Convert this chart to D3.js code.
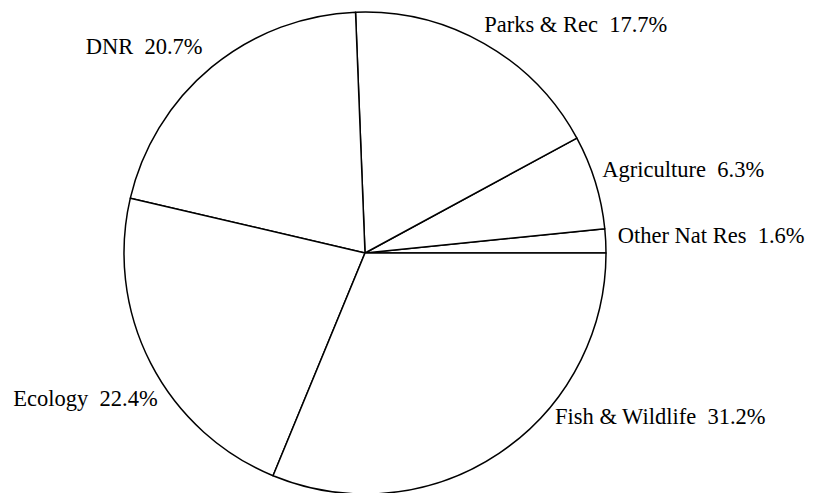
<!DOCTYPE html>
<html>
<head>
<meta charset="utf-8">
<script src="https://cdn.jsdelivr.net/npm/d3@7"></script>
<style>
  body { margin: 0; background: #fff; }
  svg { display: block; }
</style>
</head>
<body>
<svg id="chart" width="822" height="493"></svg>
<script>
// Slice data, counterclockwise from 3 o'clock
const categories = ["Other Nat Res", "Agriculture", "Parks & Rec", "DNR", "Ecology", "Fish & Wildlife"];
const shares = [1.6, 6.3, 17.7, 20.7, 22.4, 31.2];

// label nudges from the slice's edge midpoint (layout only)
const labelNudge = [
    [12, 2], [7, -5], [0, -12], [-9, -13], [7, 43], [56, -29]
];

const width = 822, height = 493;
const cx = 365, cy = 253, radius = 241;

const svg = d3.select("#chart");
const g = svg.append("g").attr("transform", `translate(${cx},${cy})`);

const slices = categories.map((c, i) => ({name: c, value: shares[i], i}));

// d3 angles run clockwise from 12 o'clock; map so slices go counterclockwise from 3 o'clock
const pie = d3.pie()
    .value(d => d.value)
    .sort(null)
    .startAngle(Math.PI / 2)
    .endAngle(Math.PI / 2 - 2 * Math.PI);

const arc = d3.arc().innerRadius(0).outerRadius(radius);

const arcs = pie(slices);

g.selectAll("path")
    .data(arcs)
    .join("path")
    .attr("d", arc)
    .attr("fill", "#fff")
    .attr("stroke", "#000")
    .attr("stroke-width", 1.5)
    .attr("stroke-linejoin", "round");

// labels
g.selectAll("text")
    .data(arcs)
    .join("text")
    .attr("font-family", "'Liberation Serif', 'DejaVu Serif', serif")
    .attr("font-size", 22.5)
    .attr("fill", "#000")
    .style("white-space", "pre")
    .each(function(d) {
        const mid = (d.startAngle + d.endAngle) / 2;
        const x = Math.sin(mid) * radius;
        const y = -Math.cos(mid) * radius;
        const [dx, dy] = labelNudge[d.data.i];
        d3.select(this)
            .attr("x", x + dx)
            .attr("y", y + dy)
            .attr("text-anchor", x >= 0 ? "start" : "end")
            .text(`${d.data.name}  ${d.data.value.toFixed(1)}%`);
    });
</script>
</body>
</html>
